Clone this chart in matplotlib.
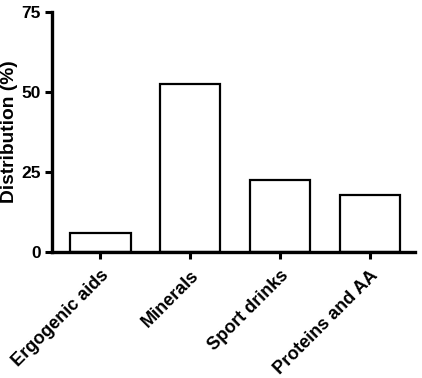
import matplotlib
matplotlib.use("Agg")
import matplotlib.pyplot as plt
import numpy as np

categories = ["Ergogenic aids", "Minerals", "Sport drinks", "Proteins and AA"]
distribution = [5.8, 52.6, 22.5, 17.8]
yticks = [0, 25, 50, 75]

plt.rcParams['font.family'] = ['Liberation Sans', 'DejaVu Sans']
plt.rcParams['font.weight'] = 'bold'

fig = plt.figure(figsize=(4.22, 3.78), dpi=100)
ax = fig.add_axes([0.123, 0.334, 0.86, 0.6345])

x = np.arange(len(categories))
ax.bar(x, distribution, width=0.67, color='white', edgecolor='black', linewidth=1.6)

ax.set_xlim(-0.54, 3.5)
ax.set_ylim(0, 75)
ax.set_yticks(yticks)
ax.set_xticks(x)
ax.set_xticklabels(categories, rotation=45, ha='right', rotation_mode='anchor',
                   fontsize=13, fontweight='bold')
ax.tick_params(axis='both', direction='out', width=2.2, length=5)
ax.tick_params(axis='y', pad=3, labelsize=12.5)
ax.tick_params(axis='x', pad=6)
for lbl in ax.get_yticklabels():
    lbl.set_fontweight('bold')

for side in ['top', 'right']:
    ax.spines[side].set_visible(False)
for side in ['left', 'bottom']:
    ax.spines[side].set_linewidth(2.4)

ax.set_ylabel('Distribution (%)', fontsize=13.8, fontweight='bold')
ax.yaxis.set_label_coords(-0.094, 0.5)

fig.savefig('out.png', dpi=100)
